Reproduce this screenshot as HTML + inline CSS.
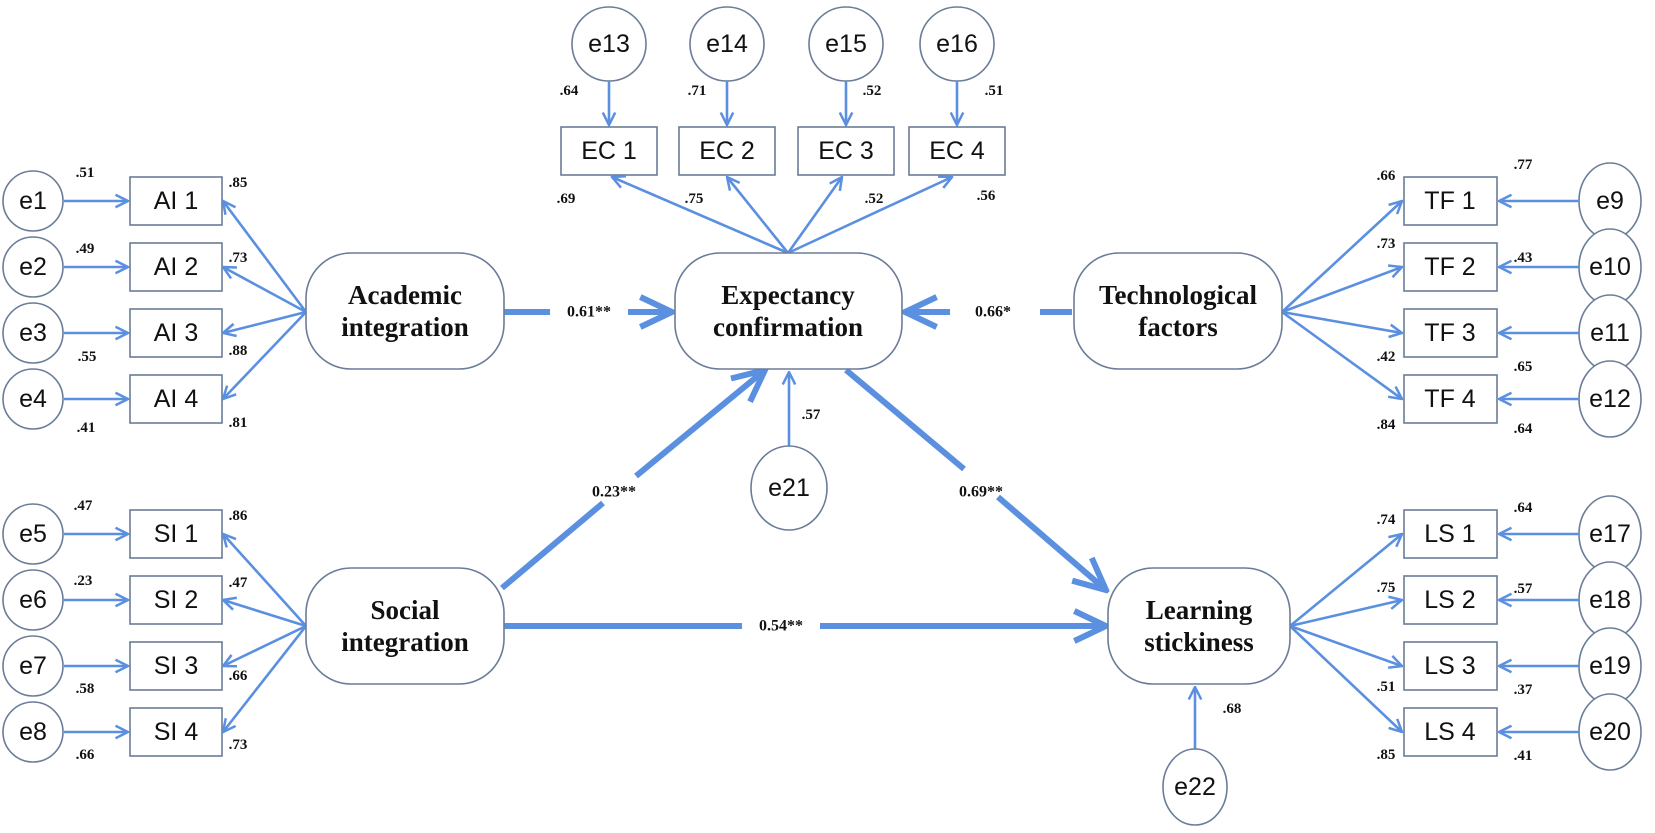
<!DOCTYPE html>
<html><head><meta charset="utf-8"><style>
html,body{margin:0;padding:0;background:#fff;}
svg{display:block;}
.n{font-family:"Liberation Sans",sans-serif;font-size:25px;fill:#111;text-anchor:middle;dominant-baseline:central;}
.l{font-family:"Liberation Serif",serif;font-weight:bold;font-size:27px;fill:#111;text-anchor:middle;}
.v{font-family:"Liberation Serif",serif;font-weight:bold;font-size:15px;fill:#111;text-anchor:middle;dominant-baseline:central;}
.p{font-family:"Liberation Serif",serif;font-weight:bold;font-size:16px;fill:#111;text-anchor:middle;dominant-baseline:central;}
.b{fill:#fff;stroke:#6a7c98;stroke-width:1.6;}
.t{stroke:#5b8fe0;stroke-width:2.6;fill:none;}
.k{stroke:#5b8fe0;stroke-width:6;fill:none;}
</style></head><body>
<svg width="1655" height="833" viewBox="0 0 1655 833" xmlns="http://www.w3.org/2000/svg">
<defs>
<marker id="a" viewBox="0 0 12 12" refX="11" refY="6" markerWidth="15" markerHeight="15" markerUnits="userSpaceOnUse" orient="auto"><path d="M1,1 L11,6 L1,11" fill="none" stroke="#5b8fe0" stroke-width="2"/></marker>
<marker id="A" viewBox="0 0 12 12" refX="11" refY="6" markerWidth="40" markerHeight="40" markerUnits="userSpaceOnUse" orient="auto"><path d="M1.5,1.5 L11,6 L1.5,10.5" fill="none" stroke="#5b8fe0" stroke-width="1.8"/></marker>
</defs>

<!-- left top: AI -->
<g>
<circle class="b" cx="33" cy="201" r="30"/><text class="n" x="33" y="201">e1</text>
<circle class="b" cx="33" cy="267" r="30"/><text class="n" x="33" y="267">e2</text>
<circle class="b" cx="33" cy="333" r="30"/><text class="n" x="33" y="333">e3</text>
<circle class="b" cx="33" cy="399" r="30"/><text class="n" x="33" y="399">e4</text>
<rect class="b" x="130" y="177" width="92" height="48"/><text class="n" x="176" y="201">AI 1</text>
<rect class="b" x="130" y="243" width="92" height="48"/><text class="n" x="176" y="267">AI 2</text>
<rect class="b" x="130" y="309" width="92" height="48"/><text class="n" x="176" y="333">AI 3</text>
<rect class="b" x="130" y="375" width="92" height="48"/><text class="n" x="176" y="399">AI 4</text>
<line class="t" x1="64" y1="201" x2="128" y2="201" marker-end="url(#a)"/>
<line class="t" x1="64" y1="267" x2="128" y2="267" marker-end="url(#a)"/>
<line class="t" x1="64" y1="333" x2="128" y2="333" marker-end="url(#a)"/>
<line class="t" x1="64" y1="399" x2="128" y2="399" marker-end="url(#a)"/>
<line class="t" x1="306" y1="312" x2="223" y2="201" marker-end="url(#a)"/>
<line class="t" x1="306" y1="312" x2="223" y2="267" marker-end="url(#a)"/>
<line class="t" x1="306" y1="312" x2="223" y2="333" marker-end="url(#a)"/>
<line class="t" x1="306" y1="312" x2="223" y2="399" marker-end="url(#a)"/>
<text class="v" x="85" y="173">.51</text><text class="v" x="238" y="183">.85</text>
<text class="v" x="85" y="249">.49</text><text class="v" x="238" y="258">.73</text>
<text class="v" x="87" y="357">.55</text><text class="v" x="238" y="351">.88</text>
<text class="v" x="86" y="428">.41</text><text class="v" x="238" y="423">.81</text>
</g>

<!-- left bottom: SI -->
<g>
<circle class="b" cx="33" cy="534" r="30"/><text class="n" x="33" y="534">e5</text>
<circle class="b" cx="33" cy="600" r="30"/><text class="n" x="33" y="600">e6</text>
<circle class="b" cx="33" cy="666" r="30"/><text class="n" x="33" y="666">e7</text>
<circle class="b" cx="33" cy="732" r="30"/><text class="n" x="33" y="732">e8</text>
<rect class="b" x="130" y="510" width="92" height="48"/><text class="n" x="176" y="534">SI 1</text>
<rect class="b" x="130" y="576" width="92" height="48"/><text class="n" x="176" y="600">SI 2</text>
<rect class="b" x="130" y="642" width="92" height="48"/><text class="n" x="176" y="666">SI 3</text>
<rect class="b" x="130" y="708" width="92" height="48"/><text class="n" x="176" y="732">SI 4</text>
<line class="t" x1="64" y1="534" x2="128" y2="534" marker-end="url(#a)"/>
<line class="t" x1="64" y1="600" x2="128" y2="600" marker-end="url(#a)"/>
<line class="t" x1="64" y1="666" x2="128" y2="666" marker-end="url(#a)"/>
<line class="t" x1="64" y1="732" x2="128" y2="732" marker-end="url(#a)"/>
<line class="t" x1="306" y1="626" x2="223" y2="534" marker-end="url(#a)"/>
<line class="t" x1="306" y1="626" x2="223" y2="600" marker-end="url(#a)"/>
<line class="t" x1="306" y1="626" x2="223" y2="666" marker-end="url(#a)"/>
<line class="t" x1="306" y1="626" x2="223" y2="732" marker-end="url(#a)"/>
<text class="v" x="83" y="506">.47</text><text class="v" x="238" y="516">.86</text>
<text class="v" x="83" y="581">.23</text><text class="v" x="238" y="583">.47</text>
<text class="v" x="85" y="689">.58</text><text class="v" x="238" y="676">.66</text>
<text class="v" x="85" y="755">.66</text><text class="v" x="238" y="745">.73</text>
</g>

<!-- top: EC -->
<g>
<circle class="b" cx="609" cy="44" r="37"/><text class="n" x="609" y="44">e13</text>
<circle class="b" cx="727" cy="44" r="37"/><text class="n" x="727" y="44">e14</text>
<circle class="b" cx="846" cy="44" r="37"/><text class="n" x="846" y="44">e15</text>
<circle class="b" cx="957" cy="44" r="37"/><text class="n" x="957" y="44">e16</text>
<rect class="b" x="561" y="127" width="96" height="48"/><text class="n" x="609" y="151">EC 1</text>
<rect class="b" x="679" y="127" width="96" height="48"/><text class="n" x="727" y="151">EC 2</text>
<rect class="b" x="798" y="127" width="96" height="48"/><text class="n" x="846" y="151">EC 3</text>
<rect class="b" x="909" y="127" width="96" height="48"/><text class="n" x="957" y="151">EC 4</text>
<line class="t" x1="609" y1="81" x2="609" y2="125" marker-end="url(#a)"/>
<line class="t" x1="727" y1="81" x2="727" y2="125" marker-end="url(#a)"/>
<line class="t" x1="846" y1="81" x2="846" y2="125" marker-end="url(#a)"/>
<line class="t" x1="957" y1="81" x2="957" y2="125" marker-end="url(#a)"/>
<line class="t" x1="788" y1="253" x2="612" y2="177" marker-end="url(#a)"/>
<line class="t" x1="788" y1="253" x2="727" y2="177" marker-end="url(#a)"/>
<line class="t" x1="788" y1="253" x2="842" y2="177" marker-end="url(#a)"/>
<line class="t" x1="788" y1="253" x2="952" y2="177" marker-end="url(#a)"/>
<text class="v" x="569" y="91">.64</text><text class="v" x="697" y="91">.71</text>
<text class="v" x="872" y="91">.52</text><text class="v" x="994" y="91">.51</text>
<text class="v" x="566" y="199">.69</text><text class="v" x="694" y="199">.75</text>
<text class="v" x="874" y="199">.52</text><text class="v" x="986" y="196">.56</text>
</g>

<!-- right top: TF -->
<g>
<rect class="b" x="1404" y="177" width="93" height="48"/><text class="n" x="1450" y="201">TF 1</text>
<rect class="b" x="1404" y="243" width="93" height="48"/><text class="n" x="1450" y="267">TF 2</text>
<rect class="b" x="1404" y="309" width="93" height="48"/><text class="n" x="1450" y="333">TF 3</text>
<rect class="b" x="1404" y="375" width="93" height="48"/><text class="n" x="1450" y="399">TF 4</text>
<ellipse class="b" cx="1610" cy="201" rx="31" ry="38"/><text class="n" x="1610" y="201">e9</text>
<ellipse class="b" cx="1610" cy="267" rx="31" ry="38"/><text class="n" x="1610" y="267">e10</text>
<ellipse class="b" cx="1610" cy="333" rx="31" ry="38"/><text class="n" x="1610" y="333">e11</text>
<ellipse class="b" cx="1610" cy="399" rx="31" ry="38"/><text class="n" x="1610" y="399">e12</text>
<line class="t" x1="1579" y1="201" x2="1499" y2="201" marker-end="url(#a)"/>
<line class="t" x1="1579" y1="267" x2="1499" y2="267" marker-end="url(#a)"/>
<line class="t" x1="1579" y1="333" x2="1499" y2="333" marker-end="url(#a)"/>
<line class="t" x1="1579" y1="399" x2="1499" y2="399" marker-end="url(#a)"/>
<line class="t" x1="1282" y1="312" x2="1402" y2="201" marker-end="url(#a)"/>
<line class="t" x1="1282" y1="312" x2="1402" y2="267" marker-end="url(#a)"/>
<line class="t" x1="1282" y1="312" x2="1402" y2="333" marker-end="url(#a)"/>
<line class="t" x1="1282" y1="312" x2="1402" y2="399" marker-end="url(#a)"/>
<text class="v" x="1386" y="176">.66</text><text class="v" x="1523" y="165">.77</text>
<text class="v" x="1386" y="244">.73</text><text class="v" x="1523" y="258">.43</text>
<text class="v" x="1386" y="357">.42</text><text class="v" x="1523" y="367">.65</text>
<text class="v" x="1386" y="425">.84</text><text class="v" x="1523" y="429">.64</text>
</g>

<!-- right bottom: LS -->
<g>
<rect class="b" x="1404" y="510" width="93" height="48"/><text class="n" x="1450" y="534">LS 1</text>
<rect class="b" x="1404" y="576" width="93" height="48"/><text class="n" x="1450" y="600">LS 2</text>
<rect class="b" x="1404" y="642" width="93" height="48"/><text class="n" x="1450" y="666">LS 3</text>
<rect class="b" x="1404" y="708" width="93" height="48"/><text class="n" x="1450" y="732">LS 4</text>
<ellipse class="b" cx="1610" cy="534" rx="31" ry="38"/><text class="n" x="1610" y="534">e17</text>
<ellipse class="b" cx="1610" cy="600" rx="31" ry="38"/><text class="n" x="1610" y="600">e18</text>
<ellipse class="b" cx="1610" cy="666" rx="31" ry="38"/><text class="n" x="1610" y="666">e19</text>
<ellipse class="b" cx="1610" cy="732" rx="31" ry="38"/><text class="n" x="1610" y="732">e20</text>
<line class="t" x1="1579" y1="534" x2="1499" y2="534" marker-end="url(#a)"/>
<line class="t" x1="1579" y1="600" x2="1499" y2="600" marker-end="url(#a)"/>
<line class="t" x1="1579" y1="666" x2="1499" y2="666" marker-end="url(#a)"/>
<line class="t" x1="1579" y1="732" x2="1499" y2="732" marker-end="url(#a)"/>
<line class="t" x1="1290" y1="626" x2="1402" y2="534" marker-end="url(#a)"/>
<line class="t" x1="1290" y1="626" x2="1402" y2="600" marker-end="url(#a)"/>
<line class="t" x1="1290" y1="626" x2="1402" y2="666" marker-end="url(#a)"/>
<line class="t" x1="1290" y1="626" x2="1402" y2="732" marker-end="url(#a)"/>
<text class="v" x="1386" y="520">.74</text><text class="v" x="1523" y="508">.64</text>
<text class="v" x="1386" y="588">.75</text><text class="v" x="1523" y="589">.57</text>
<text class="v" x="1386" y="687">.51</text><text class="v" x="1523" y="690">.37</text>
<text class="v" x="1386" y="755">.85</text><text class="v" x="1523" y="756">.41</text>
</g>

<!-- structural paths -->
<line class="k" x1="504" y1="312" x2="550" y2="312"/>
<line class="k" x1="628" y1="312" x2="672" y2="312" marker-end="url(#A)"/>
<text class="p" x="589" y="312">0.61**</text>
<line class="k" x1="1072" y1="312" x2="1040" y2="312"/>
<line class="k" x1="950" y1="312" x2="905" y2="312" marker-end="url(#A)"/>
<text class="p" x="993" y="312">0.66*</text>
<line class="k" x1="502" y1="588" x2="603" y2="503"/>
<line class="k" x1="636" y1="476" x2="765" y2="370" marker-end="url(#A)"/>
<text class="p" x="614" y="492">0.23**</text>
<line class="k" x1="846" y1="370" x2="964" y2="469"/>
<line class="k" x1="998" y1="497" x2="1106" y2="590" marker-end="url(#A)"/>
<text class="p" x="981" y="492">0.69**</text>
<line class="k" x1="504" y1="626" x2="742" y2="626"/>
<line class="k" x1="820" y1="626" x2="1106" y2="626" marker-end="url(#A)"/>
<text class="p" x="781" y="626">0.54**</text>

<!-- e21, e22 -->
<line class="t" x1="789" y1="446" x2="789" y2="372" marker-end="url(#a)"/>
<ellipse class="b" cx="789" cy="488" rx="38" ry="42"/><text class="n" x="789" y="488">e21</text>
<text class="v" x="811" y="415">.57</text>
<line class="t" x1="1195" y1="750" x2="1195" y2="687" marker-end="url(#a)"/>
<ellipse class="b" cx="1195" cy="787" rx="32" ry="38"/><text class="n" x="1195" y="787">e22</text>
<text class="v" x="1232" y="709">.68</text>

<!-- latent variables -->
<rect class="b" x="306" y="253" width="198" height="116" rx="45" ry="45"/>
<text class="l" x="405" y="304">Academic</text><text class="l" x="405" y="336">integration</text>
<rect class="b" x="306" y="568" width="198" height="116" rx="45" ry="45"/>
<text class="l" x="405" y="619">Social</text><text class="l" x="405" y="651">integration</text>
<rect class="b" x="675" y="253" width="227" height="116" rx="45" ry="45"/>
<text class="l" x="788" y="304">Expectancy</text><text class="l" x="788" y="336">confirmation</text>
<rect class="b" x="1074" y="253" width="208" height="116" rx="45" ry="45"/>
<text class="l" x="1178" y="304">Technological</text><text class="l" x="1178" y="336">factors</text>
<rect class="b" x="1108" y="568" width="182" height="116" rx="45" ry="45"/>
<text class="l" x="1199" y="619">Learning</text><text class="l" x="1199" y="651">stickiness</text>
</svg>
</body></html>
